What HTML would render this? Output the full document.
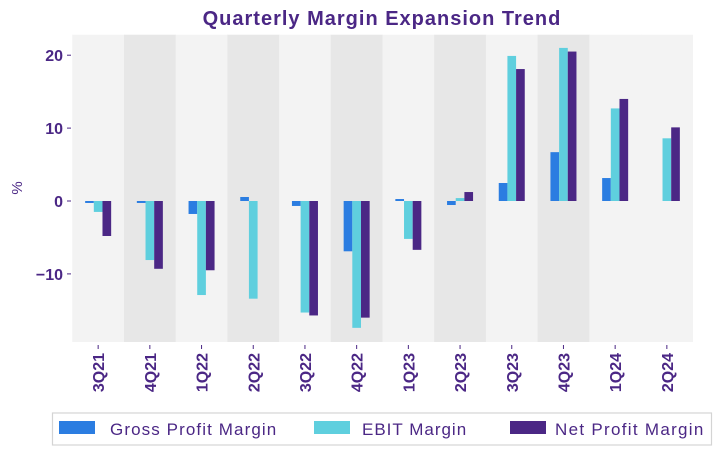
<!DOCTYPE html>
<html><head><style>body{margin:0;background:#fff}svg{display:block;font-family:"Liberation Sans",sans-serif}</style></head>
<body>
<svg width="722" height="455" xmlns="http://www.w3.org/2000/svg">
<text x="382" y="25" text-anchor="middle" font-size="20" font-weight="bold" fill="#4b2785" letter-spacing="1">Quarterly Margin Expansion Trend</text>
<g id="bands"></g>
<g id="bars"></g>
<g id="axes"></g>
<text transform="translate(22,188) rotate(-90)" text-anchor="middle" font-size="15" fill="#4b2785">%</text>
<rect x="52.5" y="413" width="659" height="32" fill="#fff" stroke="#d4d4d4" stroke-width="1.2"/>
<rect x="59" y="421" width="36" height="13" fill="#2b7de1"/>
<text x="110" y="435" font-size="17" fill="#4b2785" letter-spacing="1.1">Gross Profit Margin</text>
<rect x="314" y="421" width="36" height="13" fill="#5fcfde"/>
<text x="362" y="435" font-size="17" fill="#4b2785" letter-spacing="1">EBIT Margin</text>
<rect x="510" y="421" width="36" height="13" fill="#4b2785"/>
<text x="555" y="435" font-size="17" fill="#4b2785" letter-spacing="1.3">Net Profit Margin</text>
</svg>
<script>
const ns="http://www.w3.org/2000/svg";
const L=["3Q21","4Q21","1Q22","2Q22","3Q22","4Q22","1Q23","2Q23","3Q23","4Q23","1Q24","2Q24"];
const D=[[-0.27,-1.5,-4.8],[-0.27,-8.1,-9.3],[-1.78,-12.9,-9.5],[0.55,-13.4,0],[-0.68,-15.3,-15.7],[-6.9,-17.4,-16.0],[0.27,-5.2,-6.7],[-0.55,0.4,1.23],[2.47,19.9,18.1],[6.7,21.0,20.5],[3.15,12.7,14.0],[0,8.6,10.1]];
const C=["#2b7de1","#5fcfde","#4b2785"];
const x0=72.3,w=51.7,z=201,u=7.29;
function el(t,a,p,txt){const e=document.createElementNS(ns,t);for(const k in a)e.setAttribute(k,a[k]);if(txt)e.textContent=txt;document.getElementById(p).appendChild(e);}
for(let i=0;i<12;i++){
 el("rect",{x:x0+i*w,y:34.7,width:w+0.3,height:307.3,fill:(i%2==1&&i<11)?"#e7e7e7":"#f3f3f3"},"bands");
 const c=x0+w*(i+0.5);
 for(let j=0;j<3;j++){const v=D[i][j];if(!v)continue;const h=Math.abs(v)*u;
  el("rect",{x:c-13+j*8.67,y:v>0?z-h:z,width:8.67,height:h,fill:C[j]},"bars");}
 el("line",{x1:c,x2:c,y1:345,y2:349,stroke:"#4b2785","stroke-width":1},"axes");
 el("text",{transform:`translate(${c+6},353) rotate(-90)`,"text-anchor":"end","font-size":"16","font-weight":"bold",fill:"#4b2785"},"axes",L[i]);
}
[[20,"20"],[10,"10"],[0,"0"],[-10,"−10"]].forEach(([v,t])=>{const y=z-v*u;
 el("line",{x1:67,x2:71,y1:y,y2:y,stroke:"#4b2785","stroke-width":1},"axes");
 el("text",{x:63,y:y+6,"text-anchor":"end","font-size":"16","font-weight":"bold",fill:"#4b2785"},"axes",t);});
</script>
</body></html>
